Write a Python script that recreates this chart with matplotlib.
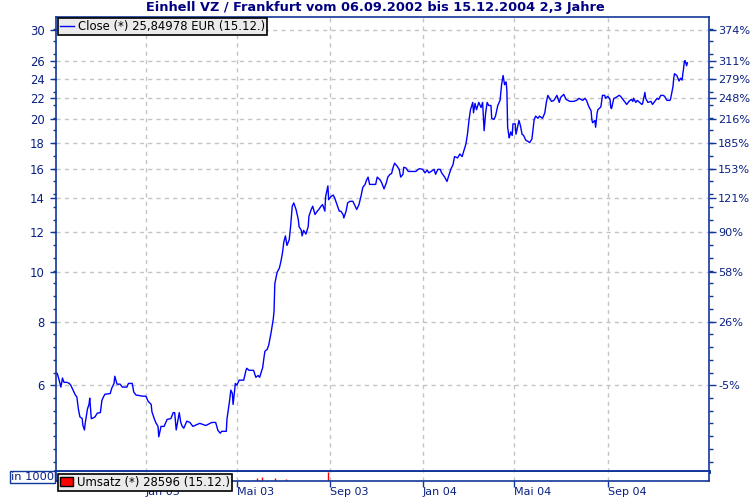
import matplotlib
matplotlib.use("Agg")
import matplotlib.pyplot as plt
from matplotlib.lines import Line2D
from matplotlib.patches import Patch
from matplotlib.ticker import FixedLocator, NullFormatter
import numpy as np
import pandas as pd

# data (days after the first quote, close in EUR)
START = "2002-09-06"
day = [0, 1, 5, 7, 9, 13, 16, 18, 21, 24, 26, 28, 30, 33, 34, 36, 37, 40, 42, 43,
       45, 46, 50, 53, 57, 59, 61, 63, 70, 72, 75, 76, 79, 83, 86, 92, 94, 99, 101, 104,
       113, 117, 120, 124, 125, 128, 130, 133, 134, 137, 141, 145, 150, 153, 155, 157, 158, 161, 163, 165,
       167, 171, 175, 179, 188, 196, 204, 209, 212, 215, 217, 223, 224, 227, 229, 231, 232, 235, 237, 240,
       246, 249, 250, 253, 259, 262, 265, 267, 269, 271, 273, 274, 277, 279, 282, 285, 286, 287, 290, 293,
       295, 297, 299, 301, 303, 306, 308, 310, 312, 315, 318, 319, 322, 323, 325, 328, 331, 332, 335, 337,
       340, 343, 345, 348, 350, 353, 354, 357, 358, 361, 364, 366, 369, 372, 374, 377, 378, 381, 383, 386,
       390, 393, 395, 398, 401, 403, 406, 408, 410, 412, 415, 420, 422, 426, 428, 431, 434, 436, 439, 441,
       443, 445, 448, 451, 453, 456, 457, 460, 463, 468, 473, 476, 478, 482, 485, 488, 490, 493, 497, 499,
       502, 505, 507, 511, 514, 517, 519, 522, 524, 528, 531, 534, 536, 539, 541, 543, 545, 548, 549, 551,
       553, 556, 559, 561, 563, 565, 567, 569, 572, 573, 576, 578, 581, 584, 586, 588, 590, 592, 593, 594,
       596, 597, 598, 600, 601, 604, 605, 608, 609, 611, 613, 615, 618, 621, 623, 626, 629, 631, 634, 636,
       640, 643, 645, 647, 650, 652, 655, 659, 662, 664, 668, 671, 676, 681, 685, 688, 693, 696, 698, 701,
       704, 705, 706, 709, 710, 712, 713, 716, 717, 719, 722, 723, 726, 729, 730, 731, 734, 737, 741, 743,
       746, 749, 751, 754, 757, 759, 760, 763, 765, 768, 771, 772, 775, 776, 779, 783, 785, 788, 791, 793,
       796, 799, 801, 804, 808, 809, 812, 813, 814, 817, 820, 822, 824, 825, 826, 827, 828, 830, 831]
close = [6.33, 6.27, 5.95, 6.2, 6.08, 6.08, 6.05, 6.0, 5.87, 5.74, 5.69, 5.39, 5.2, 5.16, 5.0, 4.9, 5.05, 5.39, 5.5, 5.66,
         5.16, 5.16, 5.2, 5.29, 5.3, 5.6, 5.69, 5.76, 5.78, 5.92, 6.05, 6.25, 6.03, 6.03, 5.95, 5.95, 6.05, 6.05, 5.82, 5.74,
         5.71, 5.71, 5.58, 5.5, 5.32, 5.16, 5.07, 4.98, 4.75, 4.98, 4.98, 5.14, 5.16, 5.3, 5.3, 4.9, 5.0, 5.3, 5.07, 4.98,
         4.94, 5.1, 5.07, 4.98, 5.05, 5.0, 5.07, 5.07, 4.89, 4.83, 4.87, 4.87, 5.16, 5.54, 5.87, 5.78, 5.5, 6.05, 6.0, 6.14,
         6.14, 6.42, 6.48, 6.42, 6.42, 6.22, 6.27, 6.22, 6.36, 6.5, 6.85, 7.0, 7.06, 7.2, 7.6, 8.1, 8.4, 9.5, 10.0, 10.2,
         10.5, 10.9, 11.5, 11.8, 11.3, 11.6, 12.4, 13.5, 13.7, 13.3, 12.7, 12.3, 12.1, 11.8, 12.1, 11.9, 12.3, 12.9, 13.3, 13.5,
         13.0, 13.2, 13.3, 13.5, 13.6, 13.2, 14.1, 14.8, 13.9, 14.1, 14.2, 14.0, 13.6, 13.2, 13.2, 13.0, 12.8, 13.2, 13.7, 13.8,
         13.8, 13.5, 13.3, 13.6, 14.2, 14.7, 14.9, 15.2, 15.4, 14.9, 14.9, 14.9, 15.4, 15.2, 15.0, 14.6, 15.0, 15.4, 15.6, 15.65,
         16.1, 16.4, 16.2, 15.95, 15.4, 15.6, 16.1, 16.05, 15.8, 15.8, 15.8, 15.95, 16.0, 15.95, 15.7, 15.9, 15.7, 15.8, 15.95, 15.6,
         15.95, 15.95, 15.7, 15.4, 15.1, 15.6, 15.95, 16.3, 16.9, 16.8, 17.1, 16.9, 17.3, 17.9, 18.7, 19.9, 20.9, 21.6, 20.6, 21.5,
         20.9, 21.6, 21.1, 21.6, 19.0, 20.6, 21.6, 21.3, 21.3, 20.1, 20.0, 20.3, 21.3, 21.8, 23.4, 24.4, 23.4, 23.7, 22.8, 19.3,
         18.4, 18.6, 18.9, 18.6, 19.6, 19.6, 18.7, 19.6, 19.9, 19.4, 18.7, 18.6, 18.2, 18.1, 18.0, 18.3, 20.0, 20.3, 20.1, 20.3,
         20.1, 20.6, 21.6, 22.3, 21.9, 21.7, 21.8, 22.3, 21.6, 22.1, 22.4, 21.9, 21.7, 21.7, 21.8, 22.0, 21.8, 22.0, 21.8, 21.2,
         20.8, 20.0, 19.7, 19.9, 19.3, 20.6, 20.9, 21.1, 21.2, 22.3, 22.3, 22.0, 22.2, 21.9, 21.1, 21.0, 22.0, 22.1, 22.3, 22.2,
         21.9, 21.6, 21.4, 21.7, 21.9, 21.7, 22.0, 21.6, 21.8, 21.6, 21.4, 21.5, 22.6, 22.0, 21.6, 21.7, 21.4, 21.7, 22.0, 21.9,
         22.3, 22.3, 22.2, 21.8, 21.8, 22.0, 23.2, 24.1, 24.6, 24.4, 23.8, 24.1, 23.9, 24.6, 25.2, 26.0, 26.1, 25.5, 25.85]

vol_day = [263, 270, 287, 302, 357]
vol_k = [60, 95, 70, 45, 210]

price_ticks = [6, 8, 10, 12, 14, 16, 18, 20, 22, 24, 26, 30]
pct_labels = ["-5%", "26%", "58%", "90%", "121%", "153%", "185%", "216%", "248%", "279%", "311%", "374%"]
month_ticks = ["2003-01-01", "2003-05-01", "2003-09-01", "2004-01-01", "2004-05-01", "2004-09-01"]
month_labels = ["Jan 03", "Mai 03", "Sep 03", "Jan 04", "Mai 04", "Sep 04"]

NAVY = "#0a1f80"
SPINE = "#12379a"
GRID = "#c4c4c4"
FS = 8.4

start = pd.Timestamp(START)
dates = start + pd.to_timedelta(day, unit="D")
vdates = start + pd.to_timedelta(vol_day, unit="D")
mticks = pd.to_datetime(month_ticks)
xmin = start - pd.Timedelta(days=1.5)
xmax = start + pd.Timedelta(days=859.5)

plt.rcParams["font.family"] = "DejaVu Sans"
fig = plt.figure(figsize=(7.5, 5), dpi=100)
fig.patch.set_facecolor("white")

ax = fig.add_axes([56 / 750, 1 - 471.5 / 500, 653 / 750, 454.5 / 500])
axv = fig.add_axes([56 / 750, 1 - 481 / 500, 653 / 750, 9.5 / 500])

# price line
ax.plot(dates, close, color="#0000ff", lw=1.0, zorder=3)
ax.set_yscale("log")
ax.set_ylim(4.06, 31.8)
ax.set_xlim(xmin, xmax)
ax.yaxis.set_major_locator(FixedLocator(price_ticks))
ax.set_yticklabels([str(v) for v in price_ticks])
minor = np.exp(np.arange(np.log(6) - 6 * 0.0577, np.log(32), 0.0577))
ax.yaxis.set_minor_locator(FixedLocator(minor))
ax.yaxis.set_minor_formatter(NullFormatter())
ax.set_xticks(mticks)
ax.set_xticklabels([])
ax.tick_params(axis="x", length=0)
ax.tick_params(axis="y", which="major", length=4, width=1, color=SPINE,
               labelcolor=NAVY, labelsize=FS, pad=4)
ax.tick_params(axis="y", which="minor", length=2.5, width=1, color=SPINE)
ax.grid(True, which="major", color=GRID, ls=(0, (3, 3)), lw=1)
for s in ax.spines.values():
    s.set_color(SPINE)
    s.set_linewidth(1.2)
ax.spines["bottom"].set_linewidth(2.8)

ax2 = ax.twinx()
ax2.set_yscale("log")
ax2.set_ylim(ax.get_ylim())
ax2.yaxis.set_major_locator(FixedLocator(price_ticks))
ax2.set_yticklabels(pct_labels)
ax2.yaxis.set_minor_locator(FixedLocator(minor))
ax2.yaxis.set_minor_formatter(NullFormatter())
ax2.tick_params(axis="y", which="major", length=5, width=1, color=SPINE,
                labelcolor=NAVY, labelsize=8.1, pad=1.5)
ax2.tick_params(axis="y", which="minor", length=3, width=1, color=SPINE)
for s in ax2.spines.values():
    s.set_visible(False)

leg = ax.legend(handles=[Line2D([], [], color="#0000ff", lw=1)],
                labels=["Close (*) 25,84978 EUR (15.12.)"],
                loc="upper left", bbox_to_anchor=(2 / 653, 1 - 1.5 / 454.5),
                borderaxespad=0, fontsize=FS, frameon=True, fancybox=False,
                handlelength=1.2, handletextpad=0.4, borderpad=0.15)
leg.get_frame().set_facecolor("#ebebeb")
leg.get_frame().set_edgecolor("black")
leg.get_frame().set_linewidth(1.2)
leg.get_frame().set_alpha(1)
leg.set_zorder(10)

# volume panel
axv.vlines(vdates, 0, vol_k, color="#ff0000", lw=1)
axv.set_xlim(xmin, xmax)
axv.set_ylim(0, max(vol_k))
axv.set_yticks([])
axv.set_xticks(mticks)
axv.set_xticklabels(month_labels, ha="left")
axv.tick_params(axis="x", length=4, width=1, color=SPINE, labelcolor=NAVY,
                labelsize=8, pad=0)
axv.grid(True, axis="x", color=GRID, ls=(0, (3, 3)), lw=1)
for s in axv.spines.values():
    s.set_color(SPINE)
    s.set_linewidth(1.2)
axv.spines["top"].set_visible(False)

fig.text(11 / 750, 1 - 477 / 500, "in 1000", fontsize=8.2, color=NAVY,
         ha="left", va="center",
         bbox=dict(boxstyle="square,pad=0.08", fc="white", ec=SPINE, lw=1))

vleg = fig.legend(handles=[Patch(facecolor="#ff0000", edgecolor="black")],
                  labels=["Umsatz (*) 28596 (15.12.)"],
                  loc="upper left", bbox_to_anchor=(58 / 750, 1 - 474 / 500),
                  borderaxespad=0, fontsize=FS, frameon=True, fancybox=False,
                  handlelength=1.1, handleheight=0.8, handletextpad=0.4,
                  borderpad=0.15)
vleg.get_frame().set_facecolor("#ebebeb")
vleg.get_frame().set_edgecolor("black")
vleg.get_frame().set_linewidth(1.2)
vleg.get_frame().set_alpha(1)

fig.text(0.5, 1 - 8 / 500, "Einhell VZ / Frankfurt vom 06.09.2002 bis 15.12.2004 2,3 Jahre",
         ha="center", va="center", fontsize=9.3, fontweight="bold", color="#000080")

fig.savefig("out.png", dpi=100)
plt.close(fig)
